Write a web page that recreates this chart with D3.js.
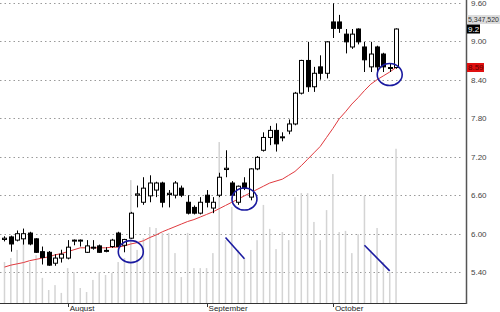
<!DOCTYPE html>
<html>
<head>
<meta charset="utf-8">
<script src="https://cdn.jsdelivr.net/npm/d3@7"></script>
<style>
  body { margin: 0; background: #fff; }
  svg { display: block; font-family: "Liberation Sans", Arial, sans-serif; }
</style>
</head>
<body>
<div id="vis"></div>
<script>
// daily OHLC, one entry per trading day
let opens  = [5.91,5.95,5.90,5.92,6.01,5.92,5.72,5.71,5.54,5.62,5.62,5.89,5.89,5.71,5.78,5.81,5.73,5.80,6.01,5.82,
              5.93,6.60,6.49,6.59,6.68,6.79,6.61,6.60,6.71,6.49,6.41,6.32,6.60,6.40,6.60,7.00,6.79,6.49,6.79,6.57,
              7.01,7.30,7.50,7.61,7.50,7.60,7.71,8.19,8.70,8.29,8.60,8.50,9.30,9.30,9.11,8.91,9.19,8.91,8.60,8.91,
              8.80,8.58,8.59]
let highs  = [5.96,5.97,6.05,6.08,6.03,5.93,5.80,5.73,5.68,5.75,5.90,5.91,5.91,5.90,5.90,5.83,5.79,5.92,6.03,5.92,
              6.34,6.75,6.88,6.91,6.81,6.81,6.68,6.82,6.75,6.60,6.44,6.57,6.68,6.57,6.95,7.30,6.82,6.75,6.88,7.02,
              7.21,7.58,7.68,7.72,7.58,7.78,8.21,8.71,8.99,8.60,8.78,9.00,9.59,9.41,9.19,9.19,9.20,8.99,8.99,8.93,
              8.82,8.66,9.20]
let lows   = [5.88,5.72,5.88,5.83,5.82,5.70,5.52,5.50,5.50,5.55,5.60,5.82,5.80,5.70,5.75,5.70,5.71,5.78,5.79,5.71,
              5.92,6.41,6.45,6.49,6.57,6.41,6.41,6.55,6.57,6.30,6.30,6.30,6.41,6.32,6.57,6.88,6.55,6.45,6.68,6.52,
              6.99,7.28,7.38,7.28,7.44,7.55,7.69,8.17,8.21,8.21,8.40,8.42,9.05,9.13,8.81,8.88,8.95,8.52,8.52,8.52,
              8.52,8.52,8.57]
let closes = [5.93,5.84,6.00,6.00,5.84,5.71,5.63,5.51,5.62,5.68,5.79,5.90,5.90,5.81,5.79,5.71,5.74,5.90,5.80,5.91,
              6.32,6.62,6.71,6.79,6.79,6.49,6.63,6.79,6.60,6.32,6.32,6.49,6.49,6.49,6.88,7.02,6.60,6.74,6.71,7.01,
              7.19,7.50,7.61,7.40,7.51,7.71,8.19,8.70,8.29,8.50,8.50,8.99,9.20,9.20,8.99,9.11,8.99,8.71,8.80,8.60,
              8.60,8.59,9.19]
// volume in millions of shares
let volumes = [1.42,1.56,1.84,2.18,1.42,1.66,0.87,0.45,0.62,0.35,1.21,1.07,0.52,0.38,0.80,1.07,0.97,1.04,1.42,1.56,
               4.26,1.84,2.25,2.63,2.60,2.43,2.43,1.73,0.90,2.43,1.21,1.21,1.21,1.73,5.58,2.18,3.33,1.84,1.56,1.84,
               2.18,3.40,2.57,1.87,2.46,2.18,3.67,3.81,3.81,2.81,2.18,3.22,4.47,2.46,2.50,1.73,2.39,3.71,1.84,2.60,
               1.42,1.07,5.34752]
// moving average (red line)
let movingAvg = [5.48,5.51,5.53,5.55,5.58,5.60,5.62,5.64,5.67,5.69,5.72,5.75,5.78,5.78,5.78,5.78,5.78,5.79,5.79,5.81,
                 5.84,5.86,5.89,5.94,5.98,6.03,6.07,6.11,6.15,6.19,6.22,6.26,6.30,6.34,6.39,6.44,6.49,6.54,6.59,6.64,
                 6.69,6.74,6.79,6.82,6.85,6.91,6.97,7.06,7.16,7.26,7.36,7.50,7.64,7.79,7.90,8.02,8.12,8.23,8.33,8.40,
                 8.46,8.52,8.59]

let priceTicks = [5.4, 6.0, 6.6, 7.2, 7.8, 8.4, 9.0, 9.6]
let monthLabels = ["August", "September", "October"]
let monthStart = [10, 32, 52]   // index of first trading day

// blue hand-drawn marks: [day index, price]
let circleMarks = [[20, 5.72], [38, 6.54], [61, 8.48]]
let slashMarks = [[[35, 5.94], [38, 5.61]], [[57, 5.82], [61, 5.42]]]

let W = 500, H = 312
let plotRight = 466, plotBottom = 303

let svg = d3.select('#vis')
  .append('svg')
  .attr('width', W)
  .attr('height', H)

let x = d3.scaleLinear().domain([-0.71, 73.08]).range([0, plotRight])
let y = d3.scaleLinear().domain([5.4, 9.6]).range([272.2, 2.7])
let yVol = d3.scaleLinear().domain([0, 10.4]).range([plotBottom, 3])

// gridlines
svg.append('g')
  .selectAll('line')
  .data(priceTicks)
  .enter().append('line')
  .attr('x1', 0).attr('x2', plotRight - 4)
  .attr('y1', d => Math.round(y(d)) + 0.5)
  .attr('y2', d => Math.round(y(d)) + 0.5)
  .attr('stroke', '#9a9a9a')
  .attr('stroke-width', 1)
  .attr('stroke-dasharray', '1.5,3')

// volume bars
svg.append('g')
  .selectAll('rect')
  .data(volumes)
  .enter().append('rect')
  .attr('x', (d, i) => x(i) - 0.75)
  .attr('y', d => yVol(d))
  .attr('width', 1.5)
  .attr('height', d => plotBottom - yVol(d))
  .attr('fill', '#d4d4d4')

// moving average
svg.append('path')
  .datum(movingAvg)
  .attr('fill', 'none')
  .attr('stroke', '#e0393e')
  .attr('stroke-width', 1)
  .attr('d', d3.line().x((d, i) => x(i)).y(d => y(d)))

// candles
let days = d3.range(opens.length)
let candle = svg.append('g').selectAll('g')
  .data(days)
  .enter().append('g')

candle.append('line')
  .attr('x1', i => Math.round(x(i)) + 0.5)
  .attr('x2', i => Math.round(x(i)) + 0.5)
  .attr('y1', i => y(highs[i]))
  .attr('y2', i => y(lows[i]))
  .attr('stroke', '#000')
  .attr('stroke-width', 1)

candle.append('rect')
  .attr('x', i => Math.round(x(i)) - 1.5)
  .attr('y', i => y(Math.max(opens[i], closes[i])))
  .attr('width', 4)
  .attr('height', i => Math.max(1, Math.abs(y(opens[i]) - y(closes[i]))))
  .attr('fill', i => closes[i] >= opens[i] ? '#fff' : '#000')
  .attr('stroke', '#000')
  .attr('stroke-width', 1)

// annotations
svg.append('g')
  .selectAll('ellipse')
  .data(circleMarks)
  .enter().append('ellipse')
  .attr('cx', d => x(d[0]))
  .attr('cy', d => y(d[1]))
  .attr('rx', 12.5)
  .attr('ry', 11)
  .attr('fill', 'none')
  .attr('stroke', '#1a1aa0')
  .attr('stroke-width', 1.6)

svg.append('g')
  .selectAll('line')
  .data(slashMarks)
  .enter().append('line')
  .attr('x1', d => x(d[0][0])).attr('y1', d => y(d[0][1]))
  .attr('x2', d => x(d[1][0])).attr('y2', d => y(d[1][1]))
  .attr('stroke', '#1a1aa0')
  .attr('stroke-width', 1.6)

// axes frame
svg.append('line')
  .attr('x1', 0).attr('x2', plotRight)
  .attr('y1', plotBottom + 0.5).attr('y2', plotBottom + 0.5)
  .attr('stroke', '#333')
svg.append('line')
  .attr('x1', plotRight + 0.5).attr('x2', plotRight + 0.5)
  .attr('y1', 0).attr('y2', plotBottom + 1)
  .attr('stroke', '#555')
  .attr('stroke-width', 1.5)

// price labels on the right
svg.append('g')
  .selectAll('text')
  .data(priceTicks)
  .enter().append('text')
  .attr('x', 471)
  .attr('y', d => y(d))
  .attr('dy', '0.35em')
  .style('font-size', '8px')
  .style('fill', '#444')
  .text(d3.format('.2f'))

// month labels
let months = svg.append('g')
months.selectAll('line')
  .data(monthStart)
  .enter().append('line')
  .attr('x1', i => Math.round(x(i)) + 0.5).attr('x2', i => Math.round(x(i)) + 0.5)
  .attr('y1', plotBottom + 1).attr('y2', plotBottom + 4)
  .attr('stroke', '#333')
months.selectAll('text')
  .data(monthStart)
  .enter().append('text')
  .attr('x', i => x(i) + 2)
  .attr('y', 311)
  .style('font-size', '8px')
  .style('fill', '#222')
  .text((d, k) => monthLabels[k])

// last value tags
let last = opens.length - 1
svg.append('rect')
  .attr('x', 467).attr('y', 15).attr('width', 33).attr('height', 9)
  .attr('fill', '#dcdcdc')
svg.append('text')
  .attr('x', 468).attr('y', 19.5).attr('dy', '0.35em')
  .attr('textLength', 31).attr('lengthAdjust', 'spacingAndGlyphs')
  .style('font-size', '7.5px').style('fill', '#333')
  .text(d3.format(',')(Math.round(volumes[last] * 1e6)))

svg.append('rect')
  .attr('x', 467).attr('y', y(closes[last]) - 4.5).attr('width', 13).attr('height', 9)
  .attr('fill', '#000')
svg.append('text')
  .attr('x', 468).attr('y', y(closes[last])).attr('dy', '0.35em')
  .style('font-size', '8px').style('fill', '#fff')
  .text(d3.format('.1f')(closes[last]))

svg.append('rect')
  .attr('x', 467).attr('y', y(movingAvg[last]) - 4.5).attr('width', 17).attr('height', 9)
  .attr('fill', '#e01010')
svg.append('text')
  .attr('x', 468).attr('y', y(movingAvg[last])).attr('dy', '0.35em')
  .style('font-size', '8px').style('fill', '#5a0000')
  .text(d3.format('.2f')(movingAvg[last]))
</script>
</body>
</html>
